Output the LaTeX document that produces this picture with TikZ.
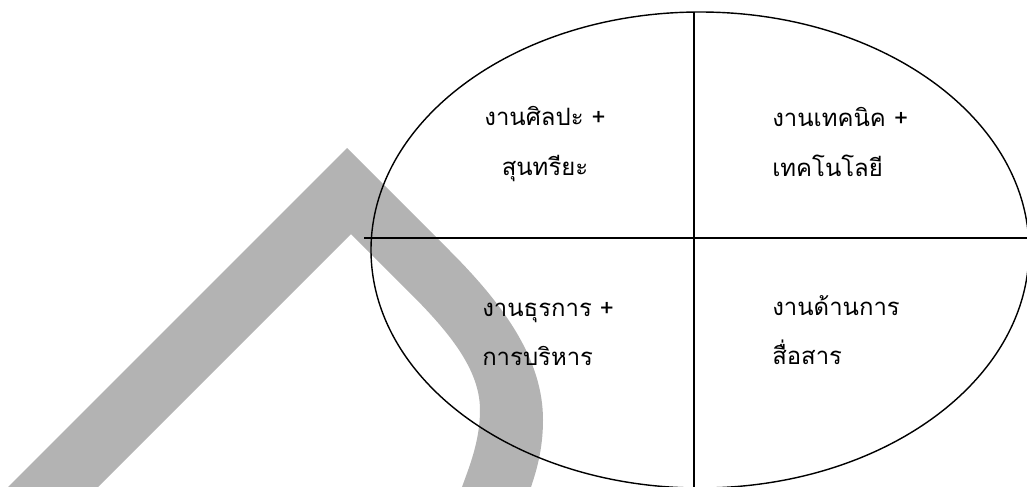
\documentclass[tikz,border=0pt]{standalone}
\usepackage{fontspec}
\newfontfamily\thaifont[Script=Thai]{Loma}
\usetikzlibrary{positioning}
\definecolor{markGray}{RGB}{179,179,179}
\tikzset{
  divline/.style={black,line width=1pt},
  fieldtext/.style={font=\thaifont\fontsize{17}{35}\selectfont,inner sep=0pt,anchor=west,align=left}
}

\begin{document}
\begin{tikzpicture}[x=0.025cm,y=-0.025cm,line cap=butt,line join=miter]
  \useasboundingbox (0,0) rectangle (1027,487);
  \clip (0,0) rectangle (1027,487);
  % watermark band
  \fill[markGray] (8,487) -- (347,148) -- (450,251)
    .. controls (505,306) and (543,360) .. (543,420)
    .. controls (543,450) and (536,472) .. (531,487)
    -- (462,487)
    .. controls (470,465) and (480,440) .. (480,410)
    .. controls (480,370) and (450,333) .. (410,293)
    -- (351,234) -- (98,487) -- cycle;
  % ellipse and quadrants
  \coordinate (O) at (700,250);
  \coordinate (top) at (694,12);
  \coordinate (bot) at (694,487);
  \coordinate (west) at (364,238);
  \coordinate (east) at (1027,238);
  \draw[black,line width=1pt] (O) ellipse [x radius=329,y radius=238];
  \draw[divline] (top) -- (bot);
  \draw[divline] (west) -- (east);
  % labels
  \node[fieldtext,anchor=center,align=center] (art) at (545,144) {งานศิลปะ +\\สุนทรียะ};
  \node[fieldtext] (tech) at (772,142) {งานเทคนิค +\\เทคโนโลยี};
  \node[fieldtext] (admin) at (482,334) {งานธุรการ +\\การบริหาร};
  \node[fieldtext] (comm) at (772,330) {งานด้านการ\\สื่อสาร};
\end{tikzpicture}
\end{document}
